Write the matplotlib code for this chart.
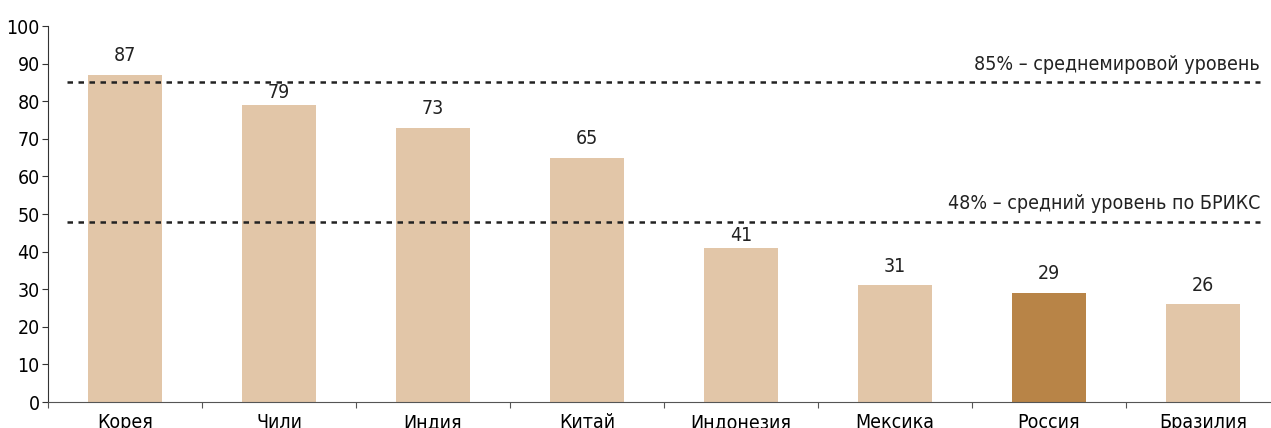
import matplotlib.pyplot as plt

plt.rcParams['font.family'] = ['DejaVu Sans']
plt.rcParams['font.stretch'] = 'condensed'

# данные
countries = ['Корея', 'Чили', 'Индия', 'Китай', 'Индонезия', 'Мексика', 'Россия', 'Бразилия']
values = [87, 79, 73, 65, 41, 31, 29, 26]
highlight = 'Россия'
world_level = 85
brics_level = 48
world_label = '85% – среднемировой уровень'
brics_label = '48% – средний уровень по БРИКС'

light = '#E2C6A8'
dark = '#B88447'

fig = plt.figure(figsize=(12.71, 4.28), dpi=100)
ax = fig.add_axes([48 / 1271, 26 / 428, 1232 / 1271, 376 / 428])

x = range(len(countries))
colors = [dark if c == highlight else light for c in countries]
ax.bar(x, values, width=0.48, color=colors)

for i, v in enumerate(values):
    # подписи, которые упираются в пунктир, чуть ниже
    near_line = any(0 < lvl - v < 9 for lvl in (world_level, brics_level))
    off = 2 if near_line else 7
    ax.annotate(str(v), (i, v), xytext=(0, off), textcoords='offset points',
                ha='center', va='bottom', fontsize=14, color='#222222')

# пунктирные линии
for lvl, lab in [(world_level, world_label), (brics_level, brics_label)]:
    ax.plot([-0.375, 7.37], [lvl, lvl], color='#222222', lw=1.8,
            linestyle=(0, (2.2, 2.2)))
    ax.annotate(lab, (7.37, lvl), xytext=(0, 6), textcoords='offset points',
                ha='right', va='bottom', fontsize=14, color='#222222')

ax.set_xlim(-0.5, 7.5)
ax.set_ylim(0, 100)
ax.set_yticks(range(0, 101, 10))
ax.set_xticks([i + 0.5 for i in range(-1, 8)], minor=False)
ax.set_xticklabels([''] * 9)
ax.set_xticks(list(x), minor=True)
ax.set_xticklabels(countries, minor=True)
ax.tick_params(axis='x', which='minor', length=0, pad=8, labelsize=14)
ax.tick_params(axis='x', which='major', length=4, direction='out', color='#555555')
ax.tick_params(axis='y', length=4, labelsize=14, pad=2, color='#333333')

for s in ['top', 'right']:
    ax.spines[s].set_visible(False)
ax.spines['left'].set_color('#333333')
ax.spines['bottom'].set_color('#555555')

fig.savefig('out.png', dpi=100)
